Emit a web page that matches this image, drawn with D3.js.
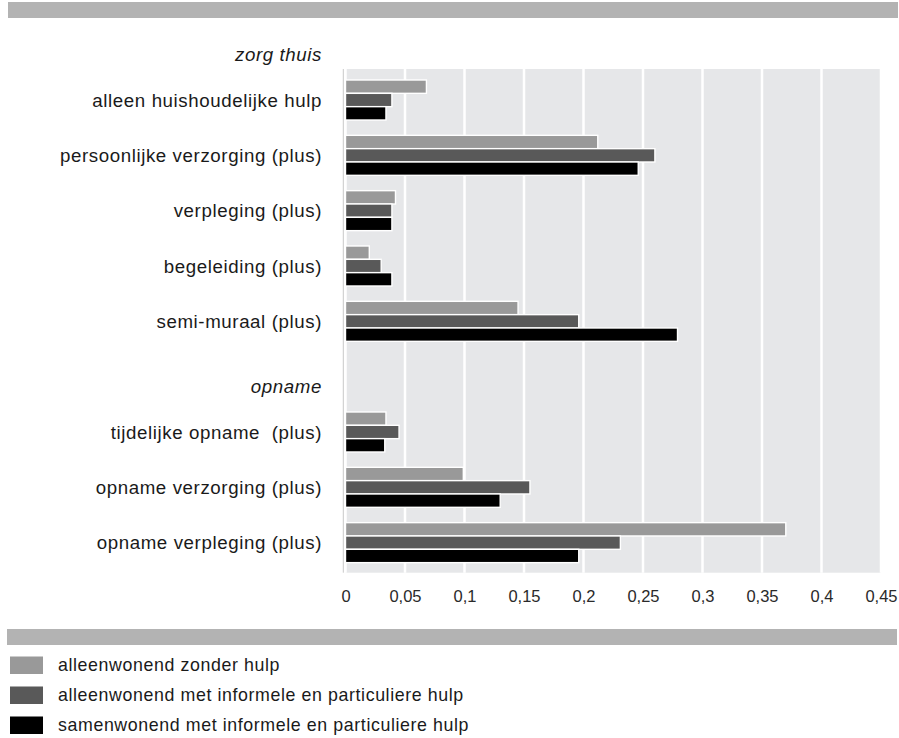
<!DOCTYPE html>
<html>
<head>
<meta charset="utf-8">
<script src="https://cdn.jsdelivr.net/npm/d3@7"></script>
<style>
  html, body { margin: 0; padding: 0; background: #fff; }
  svg { display: block; }
  .lbl { font-family: "Liberation Sans", Arial, sans-serif; font-size: 18.7px; letter-spacing: 0.6px; fill: #1a1a1a; white-space: pre; }
  .hdr { font-style: italic; }
  .leg { font-size: 17.8px; }
  .tick text { font-family: "Liberation Sans", Arial, sans-serif; font-size: 16.5px; fill: #2a2a2a; }
</style>
</head>
<body>
<svg id="chart" width="899" height="738"></svg>
<script>
// Rows of the chart, top to bottom; section headers take their own row
const rows = [
  "zorg thuis",
  "alleen huishoudelijke hulp",
  "persoonlijke verzorging (plus)",
  "verpleging (plus)",
  "begeleiding (plus)",
  "semi-muraal (plus)",
  "opname",
  "tijdelijke opname  (plus)",
  "opname verzorging (plus)",
  "opname verpleging (plus)"
];
const headers = ["zorg thuis", "opname"];
const categories = rows.filter(r => !headers.includes(r));

// Series (one value per category)
const series = [
  "alleenwonend zonder hulp",
  "alleenwonend met informele en particuliere hulp",
  "samenwonend met informele en particuliere hulp"
];
const zonderHulp    = [0.068, 0.212, 0.042, 0.020, 0.145, 0.034, 0.099, 0.370];
const alleenMetHulp = [0.039, 0.260, 0.039, 0.030, 0.196, 0.045, 0.155, 0.231];
const samenMetHulp  = [0.034, 0.246, 0.039, 0.039, 0.279, 0.033, 0.130, 0.196];
const seriesValues = [zonderHulp, alleenMetHulp, samenMetHulp];

// Axis ticks
const tickValues = [0, 0.05, 0.1, 0.15, 0.2, 0.25, 0.3, 0.35, 0.4, 0.45];

const colors = ["#999999", "#595959", "#000000"];

const svg = d3.select("#chart");

// Decorative bands above the chart and above the legend
svg.append("rect").attr("x", 8).attr("y", 2).attr("width", 890).attr("height", 16).attr("fill", "#b3b3b3");
svg.append("rect").attr("x", 7).attr("y", 629).attr("width", 890).attr("height", 16).attr("fill", "#b3b3b3");

const x = d3.scaleLinear().domain([0, 0.45]).range([345.5, 881]);
const y = d3.scaleBand().domain(rows).range([17, 570.3]);
const inner = d3.scaleBand().domain(series).range([7.67, 47.67]);

const plotTop = 69, plotBottom = 572.7;

// Plot background
svg.append("rect")
  .attr("x", x(0)).attr("y", plotTop)
  .attr("width", x(0.45) - x(0)).attr("height", plotBottom - plotTop)
  .attr("fill", "#e6e7e9");

// White vertical gridlines
svg.append("g").selectAll("line").data(tickValues).join("line")
  .attr("x1", d => x(d)).attr("x2", d => x(d))
  .attr("y1", plotTop).attr("y2", plotBottom)
  .attr("stroke", "#fff").attr("stroke-width", 2.5);

// Thin value-axis baseline left of zero
svg.append("line")
  .attr("x1", x(0) - 2.2).attr("x2", x(0) - 2.2)
  .attr("y1", plotTop).attr("y2", plotBottom)
  .attr("stroke", "#c8c8c8").attr("stroke-width", 1);

// Bars
const table = categories.map((c, i) => ({ cat: c, vals: series.map((s, j) => ({ s, v: seriesValues[j][i], j })) }));
const groups = svg.append("g").selectAll("g").data(table).join("g")
  .attr("transform", d => `translate(0,${y(d.cat)})`);
groups.selectAll("rect").data(d => d.vals).join("rect")
  .attr("x", x(0))
  .attr("y", d => inner(d.s))
  .attr("width", d => x(d.v) - x(0))
  .attr("height", inner.bandwidth())
  .attr("fill", d => colors[d.j])
  .attr("stroke", "#fff").attr("stroke-width", 1.4);

// Category and section labels
svg.append("g").selectAll("text").data(rows).join("text")
  .attr("class", d => headers.includes(d) ? "lbl hdr" : "lbl")
  .attr("x", 322)
  .attr("y", d => y(d) + y.bandwidth() / 2 + (headers.includes(d) ? 10 : 0))
  .attr("dy", "0.35em")
  .attr("text-anchor", "end")
  .text(d => d);

// Value axis labels with decimal comma
const fmt = d => String(+d.toFixed(2)).replace(".", ",");
const axis = d3.axisBottom(x).tickValues(tickValues).tickFormat(fmt).tickSize(0).tickPadding(0);
const ax = svg.append("g").attr("transform", "translate(0,590)").call(axis);
ax.select(".domain").remove();
ax.selectAll("text").attr("dy", "0.71em");

// Legend
const legend = svg.append("g").selectAll("g").data(series).join("g")
  .attr("transform", (d, i) => `translate(0,${665 + i * 30})`);
legend.append("rect")
  .attr("x", 10).attr("y", -8.5).attr("width", 33).attr("height", 17.5)
  .attr("fill", (d, i) => colors[i]);
legend.append("text")
  .attr("class", "lbl leg")
  .attr("x", 58).attr("y", 0).attr("dy", "0.35em")
  .text(d => d);
</script>
</body>
</html>
